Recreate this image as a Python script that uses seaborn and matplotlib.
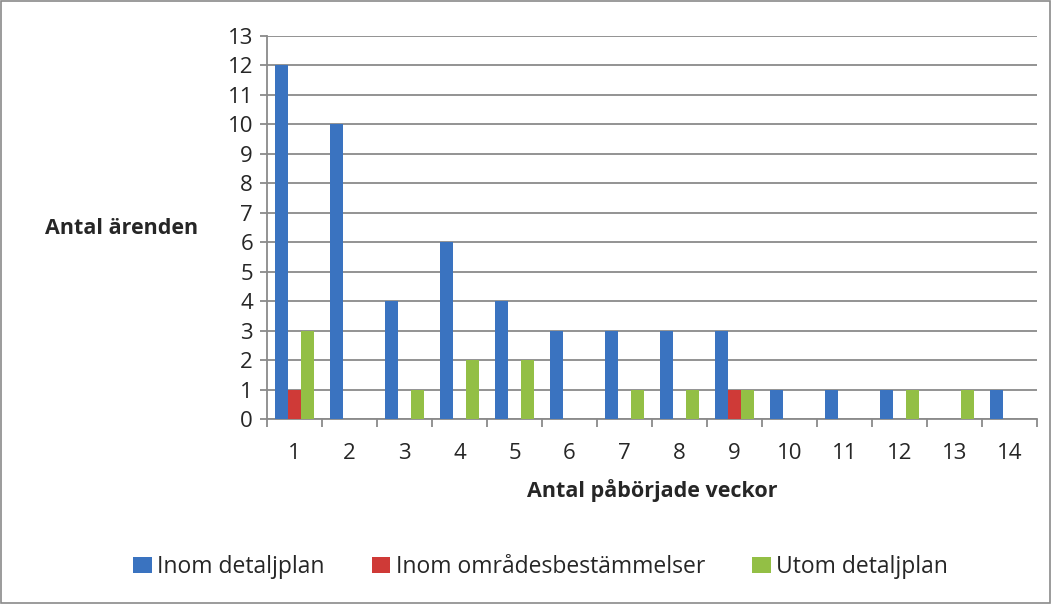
import pandas as pd
import matplotlib
matplotlib.use('Agg')
import matplotlib.pyplot as plt
import seaborn as sns
from matplotlib.patches import Rectangle

weeks = [str(i) for i in range(1, 15)]
inom_detaljplan = [12, 10, 4, 6, 4, 3, 3, 3, 3, 1, 1, 1, 0, 1]
inom_omr = [1, 0, 0, 0, 0, 0, 0, 0, 1, 0, 0, 0, 0, 0]
utom_detaljplan = [3, 0, 1, 2, 2, 0, 1, 1, 1, 0, 0, 1, 1, 0]
series_names = ['Inom detaljplan', 'Inom områdesbestämmelser', 'Utom detaljplan']
colors = ['#3a73c0', '#cf3a37', '#93bf45']

df = pd.concat([
    pd.DataFrame({'vecka': weeks, 'antal': vals, 'typ': name})
    for name, vals in zip(series_names, [inom_detaljplan, inom_omr, utom_detaljplan])
])

sns.set_style('white')
plt.rcParams['font.family'] = ['Open Sans', 'DejaVu Sans']

fig = plt.figure(figsize=(10.52, 6.04), dpi=100)
ax = fig.add_axes([0.2538, 0.3063, 0.9857 - 0.2538, 0.9404 - 0.3063])

sns.barplot(data=df, x='vecka', y='antal', hue='typ', palette=colors,
            width=0.72, saturation=1, ax=ax, zorder=3, edgecolor='none')

ax.set_ylim(0, 13)
ax.set_xlim(-0.5, 13.5)
ax.set_yticks(range(0, 14))
ax.yaxis.grid(True, color='#8a8a8a', linewidth=1.3, zorder=0)
ax.set_axisbelow(True)
for s in ['top', 'right']:
    ax.spines[s].set_visible(False)
for s in ['left', 'bottom']:
    ax.spines[s].set_color('#8a8a8a')
    ax.spines[s].set_linewidth(1.3)

ax.tick_params(axis='y', length=5, color='#8a8a8a', width=1.3, labelsize=16, pad=5, left=True)
ax.tick_params(axis='x', which='major', length=0, labelsize=16, pad=17)
ax.set_xticks([i - 0.5 for i in range(15)], minor=True)
ax.tick_params(axis='x', which='minor', length=6, color='#8a8a8a', width=1.3, bottom=True)

ax.set_xlabel('Antal påbörjade veckor', fontsize=15.5, fontweight='bold', labelpad=11)
ax.set_ylabel('')
fig.text(0.043, 0.622, 'Antal ärenden', fontsize=15.5, fontweight='bold', va='center', ha='left')

handles, labels = ax.get_legend_handles_labels()
ax.legend_.remove()
fig.legend(handles, labels, loc='center', bbox_to_anchor=(0.514, 0.061), ncol=3,
           frameon=False, fontsize=16.5, handlelength=0.8, handleheight=0.65,
           handletextpad=0.25, columnspacing=2.05)

fig.patches.append(Rectangle((0.001, 0.001), 0.997, 0.997, transform=fig.transFigure,
                             fill=False, edgecolor='#8a8a8a', linewidth=1.2))

fig.savefig('out.png', dpi=100)
